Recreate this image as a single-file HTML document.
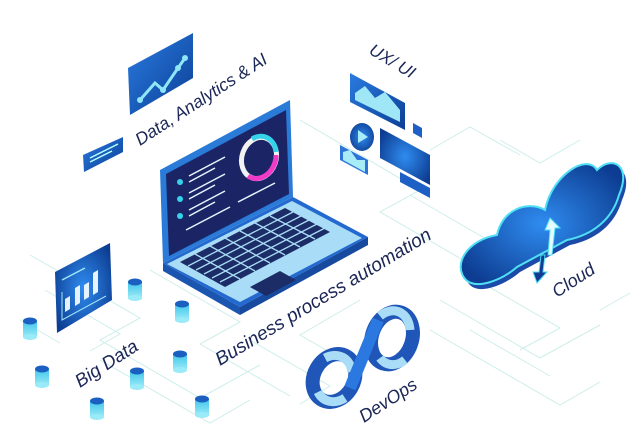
<!DOCTYPE html>
<html><head><meta charset="utf-8"><style>
html,body{margin:0;padding:0;background:#fff;}
svg{display:block}
text{font-family:"Liberation Sans",sans-serif;font-style:italic;fill:#1b2656;}
</style></head><body>
<svg width="641" height="445" viewBox="0 0 641 445" xmlns="http://www.w3.org/2000/svg">
<defs>
<linearGradient id="bl" x1="0" y1="0" x2="1" y2="1"><stop offset="0" stop-color="#2a7be0"/><stop offset="1" stop-color="#0b3f96"/></linearGradient>
<radialGradient id="rb" cx="0.5" cy="0.5" r="0.6"><stop offset="0" stop-color="#2f8cf0"/><stop offset="1" stop-color="#0d3d92"/></radialGradient>
<linearGradient id="cyl" x1="0" y1="0" x2="0" y2="1"><stop offset="0" stop-color="#3fc6ea"/><stop offset="1" stop-color="#9aeaf7"/></linearGradient>
<g id="c"><rect x="-7" y="-6" width="14" height="16" fill="url(#cyl)"/><ellipse cx="0" cy="10" rx="7" ry="3" fill="#9aeaf7"/><ellipse cx="0" cy="-6" rx="7" ry="3.5" fill="#1b5fc0"/></g>
</defs>
<g stroke="#cdeeea" stroke-width="1" fill="none">
<path d="M30 255 L140 318 L100 340 L200 398 L260 365"/>
<path d="M100 360 L210 423 L250 400"/>
<path d="M150 270 L240 322 L200 344 L290 396"/>
<path d="M45 290 L120 334 L90 351"/>
<path d="M300 120 L420 190 L380 212 L470 264"/>
<path d="M410 195 L500 247 L460 270 L560 328 L520 350"/>
<path d="M440 300 L540 358 L600 325"/>
<path d="M430 330 L560 405 L600 382"/>
<path d="M470 330 L550 376"/>
<path d="M500 140 L540 163 L580 140"/>
<path d="M430 150 L470 127 L520 155"/>
<path d="M360 300 L300 335 L340 358"/>
<path d="M250 340 L330 386 L300 404"/>
<path d="M600 310 L630 293"/>
<path d="M20 320 L60 343"/>
</g>
<polygon points="128,68 193,33 193,78 130,115" fill="url(#bl)"/>
<polyline points="140,100 155,83 163,90 178,68 185,58" stroke="#8fe6f7" stroke-width="3" fill="none"/>
<circle cx="163" cy="90" r="3" fill="#8fe6f7"/><circle cx="178" cy="68" r="3" fill="#8fe6f7"/><circle cx="185" cy="58" r="3" fill="#8fe6f7"/><circle cx="140" cy="100" r="3" fill="#8fe6f7"/>
<polygon points="83,155 123,137 123,152 84,172" fill="url(#bl)"/>
<line x1="90" y1="158" x2="118" y2="144" stroke="#bff" stroke-width="1.5"/>
<line x1="90" y1="162" x2="112" y2="151" stroke="#bff" stroke-width="1.5"/>
<text font-size="17.5" transform="translate(140,146) rotate(-33)">Data, Analytics &amp; AI</text>
<text font-size="17" transform="translate(368,53) rotate(31)">UX/ UI</text>
<polygon points="350,73 405,103 405,130 350,102" fill="url(#bl)"/>
<path d="M355 93 L365 86 L375 98 L385 92 L400 110 L400 122 L355 100Z" fill="#9fe6f7"/>
<polygon points="413,123 422,128 422,138 413,133" fill="#1d5fc4"/>
<ellipse cx="362" cy="137" rx="12" ry="14" fill="url(#rb)"/>
<polygon points="358,130 368,137 358,143" fill="#a8ecf8"/>
<polygon points="340,145 368,160 368,175 340,160" fill="#2d74d8"/>
<path d="M343 152 L350 150 L357 160 L365 160 L365 172 L343 160Z" fill="#a8ecf8"/>
<polygon points="380,128 430,155 430,185 380,158" fill="url(#rb)"/>
<polygon points="400,172 430,188 430,198 400,182" fill="#1d5fc4"/>
<polygon points="163,263 293,197 368,237 240,307" fill="#2369cf"/>
<polygon points="163,263 240,307 240,315 163,271" fill="#1a55b0"/>
<polygon points="240,307 368,237 368,245 240,315" fill="#174a9e"/>
<polygon points="167,264 292,201 362,238 240,302" fill="#a9dcf6"/>
<polygon points="180,262 285,208 330,232 225,287" fill="#1c2c66"/>
<g stroke="#a9dcf6" stroke-width="1.3">
<line x1="188" y1="266" x2="293" y2="212"/><line x1="196" y1="270" x2="301" y2="216"/><line x1="204" y1="274" x2="309" y2="220"/><line x1="212" y1="278" x2="317" y2="224"/><line x1="220" y1="282" x2="325" y2="228"/>
<line x1="195" y1="254" x2="240" y2="279"/><line x1="210" y1="246" x2="255" y2="271"/><line x1="225" y1="238" x2="270" y2="263"/><line x1="240" y1="231" x2="285" y2="255"/><line x1="255" y1="223" x2="300" y2="247"/><line x1="270" y1="216" x2="315" y2="239"/>
</g>
<polygon points="250,287 280,271 296,280 266,296" fill="#1c2c66"/>
<polygon points="160,170 290,100 293,197 163,263" fill="#2a7ad8"/>
<polygon points="166,174 286,110 289,194 169,256" fill="#1b2566"/>
<g stroke="#e8f4ff" stroke-width="1.5">
<line x1="189" y1="176" x2="225" y2="157"/><line x1="189" y1="182" x2="215" y2="168"/>
<line x1="189" y1="193" x2="225" y2="174"/><line x1="189" y1="199" x2="215" y2="185"/>
<line x1="189" y1="210" x2="225" y2="191"/><line x1="189" y1="216" x2="215" y2="202"/>
<line x1="186" y1="230" x2="230" y2="207"/>
<line x1="238" y1="202" x2="275" y2="183"/>
</g>
<circle cx="180" cy="182" r="3" fill="#35d3ea"/><circle cx="180" cy="199" r="3" fill="#35d3ea"/><circle cx="180" cy="216" r="3" fill="#35d3ea"/>
<ellipse cx="259" cy="158" rx="17" ry="21" transform="rotate(20 259 158)" fill="none" stroke="#f2f2f2" stroke-width="5"/>
<path d="M252 139 A17 21 20 0 1 276 152" fill="none" stroke="#35d3ea" stroke-width="5"/>
<path d="M276 155 A17 21 20 0 1 248 176" fill="none" stroke="#f03bc8" stroke-width="5"/>
<text font-size="19" transform="translate(220,366) rotate(-31)">Business process automation</text>
<polygon points="55,272 110,243 112,300 57,333" fill="url(#rb)"/>
<g fill="#e6f3ff"><polygon points="65,312 70,309 70,296 65,299"/><polygon points="75,306 80,303 80,285 75,288"/><polygon points="84,300 89,297 89,282 84,285"/><polygon points="93,295 98,292 98,270 93,273"/></g>
<polyline points="62,292 62,320 106,296" stroke="#9fe6f7" fill="none"/>
<line x1="62" y1="280" x2="85" y2="268" stroke="#9fe6f7" stroke-width="1.5"/>
<text font-size="18.5" transform="translate(80,388) rotate(-33)">Big Data</text>
<use href="#c" x="30" y="327"/><use href="#c" x="135" y="288"/><use href="#c" x="182" y="310"/><use href="#c" x="42" y="375"/><use href="#c" x="137" y="377"/><use href="#c" x="180" y="360"/><use href="#c" x="97" y="407"/><use href="#c" x="202" y="405"/>
<path d="M470 285 C455 270 470 245 500 240 C505 215 530 205 548 215 C555 180 590 158 600 175 C615 160 635 170 622 200 C615 225 595 240 570 245 L520 272 C505 285 480 295 470 285Z" fill="#1c4aa8"/>
<path d="M466 280 C452 265 467 240 497 235 C502 210 527 200 545 210 C552 175 587 153 597 170 C612 155 632 165 619 195 C612 220 592 235 567 240 L517 267 C502 280 477 290 466 280Z" fill="url(#rb)" stroke="#4fe0f5" stroke-width="2"/>
<polygon points="550,218 560,228 555,228 552,255 548,255 550,230 545,230" fill="#e6fbff" stroke="#4fe0f5"/>
<polygon points="537,283 547,272 543,272 545,255 541,255 539,272 533,272" fill="#0f3c92" stroke="#4fe0f5"/>
<text font-size="18" transform="translate(557,298) rotate(-33)">Cloud</text>
<g fill="none">
<ellipse cx="334" cy="378" rx="20" ry="25" transform="rotate(30 334 378)" stroke="#1f56b8" stroke-width="14"/>
<ellipse cx="392" cy="338" rx="20" ry="27" transform="rotate(20 392 338)" stroke="#1f56b8" stroke-width="14"/>
<path d="M325 358 A20 25 30 0 1 352 372" stroke="#a9dcf6" stroke-width="9"/>
<path d="M318 392 A20 25 30 0 0 345 398" stroke="#a9dcf6" stroke-width="9"/>
<path d="M380 316 A20 27 20 0 1 410 330" stroke="#a9dcf6" stroke-width="9"/>
<path d="M405 360 A20 27 20 0 1 380 358" stroke="#a9dcf6" stroke-width="9"/>
<path d="M350 388 L378 320" stroke="#2a78e0" stroke-width="12"/>
</g>
<text font-size="18" transform="translate(364,423) rotate(-33)">DevOps</text>
</svg>
</body></html>
